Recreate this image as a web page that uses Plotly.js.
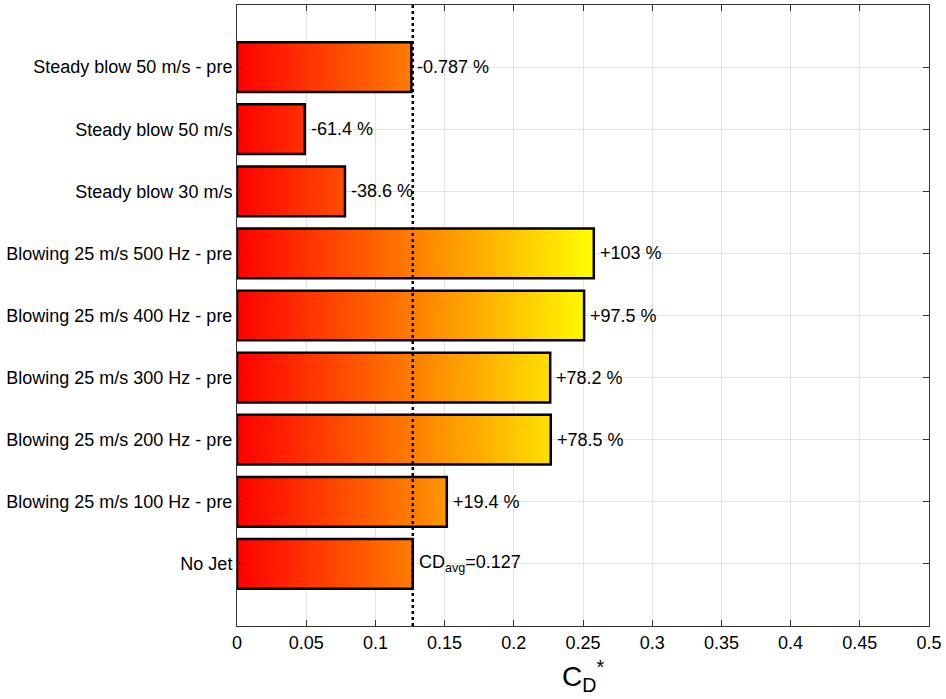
<!DOCTYPE html>
<html><head><meta charset="utf-8">
<script src="https://cdn.plot.ly/plotly-3.0.1.min.js"></script>
<style>html,body{margin:0;padding:0;background:#fff}</style>
</head><body>
<div id="chart" style="width:946px;height:699px"></div>
<script>
// Categories from bottom to top
const categories = [
  "No Jet",
  "Blowing 25 m/s 100 Hz - pre",
  "Blowing 25 m/s 200 Hz - pre",
  "Blowing 25 m/s 300 Hz - pre",
  "Blowing 25 m/s 400 Hz - pre",
  "Blowing 25 m/s 500 Hz - pre",
  "Steady blow 30 m/s",
  "Steady blow 50 m/s",
  "Steady blow 50 m/s - pre"
];
const cdValues = [0.127, 0.1516, 0.2267, 0.2263, 0.2508, 0.2578, 0.0780, 0.0490, 0.1260];
const barLabels = ["CD<sub>avg</sub>=0.127", "+19.4 %", "+78.5 %", "+78.2 %", "+97.5 %", "+103 %", "-38.6 %", "-61.4 %", "-0.787 %"];
const cdAvg = 0.127;
const xTicks = [0, 0.05, 0.1, 0.15, 0.2, 0.25, 0.3, 0.35, 0.4, 0.45, 0.5];

const vmax = Math.max(...cdValues);
const half = 0.4;
const traces = cdValues.map((v, i) => ({
  type: 'scatter',
  mode: 'lines',
  x: [0, v, v, 0, 0],
  y: [i - half, i - half, i + half, i + half, i - half],
  fill: 'toself',
  fillgradient: {type: 'horizontal', colorscale: [[0, '#ff0000'], [1, '#ffff00']], start: 0, stop: vmax},
  line: {color: '#000', width: 2.5},
  hoverinfo: 'skip',
  showlegend: false
}));

const annotations = cdValues.map((v, i) => ({
  x: v, y: i, xref: 'x', yref: 'y', text: barLabels[i],
  showarrow: false, xanchor: 'left', yanchor: 'middle', xshift: 4,
  font: {family: 'Liberation Sans, Arial, sans-serif', size: 18, color: '#000'}
}));

const layout = {
  width: 946, height: 699,
  margin: {l: 237, r: 17, t: 5, b: 73},
  paper_bgcolor: '#fff', plot_bgcolor: '#fff',
  font: {family: 'Liberation Sans, Arial, sans-serif', size: 18, color: '#000'},
  xaxis: {
    range: [0, 0.5], tickvals: xTicks, ticktext: xTicks.map(String),
    ticks: 'inside', ticklen: 6, tickcolor: '#333', tickwidth: 1,
    showline: true, linecolor: '#333', linewidth: 1, mirror: 'ticks',
    showgrid: true, gridcolor: '#e3e3e3', gridwidth: 1, zeroline: false,
    tickfont: {size: 18, color: '#000'},
    title: {text: 'C<sub>D</sub><sup>*</sup>', font: {size: 28, color: '#000'}, standoff: 14}
  },
  yaxis: {
    range: [-1, 9], tickvals: categories.map((c, i) => i), ticktext: categories,
    ticks: 'inside', ticklen: 6, tickcolor: '#333', tickwidth: 1,
    showline: true, linecolor: '#333', linewidth: 1, mirror: 'ticks',
    showgrid: true, gridcolor: '#e3e3e3', gridwidth: 1, zeroline: false,
    tickfont: {size: 18, color: '#000'}
  },
  shapes: [{
    type: 'line', xref: 'x', yref: 'paper', x0: cdAvg, x1: cdAvg, y0: 0, y1: 1,
    line: {color: '#000', width: 2.5, dash: 'dot'}, layer: 'above'
  }],
  annotations: annotations
};

Plotly.newPlot('chart', traces, layout, {displayModeBar: false, staticPlot: true});
</script>
</body></html>
